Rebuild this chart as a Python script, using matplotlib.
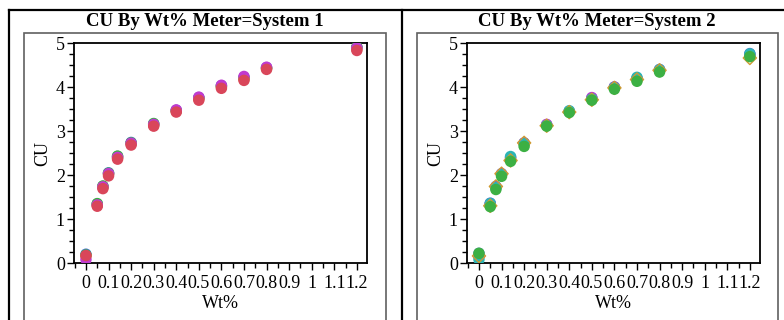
import matplotlib
matplotlib.use("Agg")
import matplotlib.pyplot as plt
from matplotlib.lines import Line2D
from matplotlib.patches import Rectangle
from matplotlib.ticker import MultipleLocator, FixedLocator, FixedFormatter

plt.rcParams["font.family"] = ["Liberation Serif", "DejaVu Serif"]

# x values shared by both meters
wt = [0, 0.05, 0.075, 0.1, 0.14, 0.2, 0.3, 0.4, 0.5, 0.6, 0.7, 0.8, 1.2]

# System 1 (red drawn last, ends up on top)
s1_blue = [0.20, 1.34, 1.74, 2.05, 2.42, 2.74, 3.16, 3.47, 3.76, 4.03, 4.22, 4.44, 4.90]
s1_green = [0.18, 1.35, 1.75, 2.04, 2.43, 2.73, 3.17, 3.46, 3.75, 4.02, 4.20, 4.43, 4.91]
s1_orange = [0.16, 1.31, 1.72, 2.02, 2.39, 2.71, 3.13, 3.45, 3.73, 4.00, 4.18, 4.42, 4.86]
s1_purple = [0.08, 1.32, 1.73, 2.03, 2.40, 2.72, 3.15, 3.48, 3.77, 4.04, 4.24, 4.45, 4.89]
s1_red = [0.17, 1.29, 1.69, 1.98, 2.36, 2.68, 3.11, 3.43, 3.70, 3.97, 4.15, 4.40, 4.83]

# System 2 (green drawn last)
s2_blue = [0.22, 1.36, 1.74, 2.03, 2.40, 2.73, 3.14, 3.45, 3.75, 4.00, 4.20, 4.40, 4.76]
s2_purple = [0.15, 1.34, 1.72, 2.02, 2.38, 2.72, 3.15, 3.44, 3.76, 4.00, 4.18, 4.37, 4.73]
s2_orange = [0.16, 1.30, 1.74, 2.03, 2.33, 2.73, 3.12, 3.43, 3.71, 3.98, 4.17, 4.38, 4.66]
s2_teal = [0.08, 1.35, 1.71, 2.01, 2.42, 2.71, 3.13, 3.46, 3.73, 3.99, 4.22, 4.39, 4.75]
s2_green = [0.22, 1.28, 1.67, 1.97, 2.31, 2.65, 3.11, 3.42, 3.70, 3.95, 4.13, 4.34, 4.69]

x_ticks = [0, 0.1, 0.2, 0.3, 0.4, 0.5, 0.6, 0.7, 0.8, 0.9, 1.0, 1.1, 1.2]
x_ticklabels = ["0", "0.1", "0.2", "0.3", "0.4", "0.5", "0.6", "0.7", "0.8", "0.9", "1", "1.1", "1.2"]

BLUE = "#4a78d0"
GREEN = "#3cb043"
RED = "#d9465a"
PURPLE = "#c03ad0"
ORANGE = "#d09a30"
TEAL = "#2bb5b5"

panels = [
    ("CU By Wt% Meter=System 1",
     [(s1_blue, BLUE, "o"), (s1_green, GREEN, "o"), (s1_orange, ORANGE, "o"),
      (s1_purple, PURPLE, "o"), (s1_red, RED, "o")]),
    ("CU By Wt% Meter=System 2",
     [(s2_blue, BLUE, "o"), (s2_purple, PURPLE, "o"), (s2_teal, TEAL, "o"),
      (s2_orange, ORANGE, "D"), (s2_green, GREEN, "o")]),
]

W, H = 784, 320
fig = plt.figure(figsize=(W / 100, H / 100), dpi=100)
fig.patch.set_facecolor("white")


def fx(px):
    return px / W


def fy(py):
    return 1 - py / H


# black panel frame lines
fig.add_artist(Line2D([fx(8.5), fx(784)], [fy(10), fy(10)], color="black", lw=1.6))
fig.add_artist(Line2D([fx(8.5), fx(8.5)], [fy(10), fy(330)], color="black", lw=1.6))
fig.add_artist(Line2D([fx(401.5), fx(401.5)], [fy(10), fy(330)], color="black", lw=1.6))

box_left = [23.5, 416.5]
box_right = [386, 778]
ax_left = [74, 467]

for i, (title, series) in enumerate(panels):
    bl, br = box_left[i], box_right[i]
    fig.add_artist(Rectangle((fx(bl), fy(340)), fx(br - bl), fy(33) - fy(340),
                             fill=False, edgecolor="#606060", lw=1.2))
    fig.text(fx((bl + br) / 2), fy(21), title, ha="center", va="center",
             fontsize=13.5, fontweight="bold")

    ax = fig.add_axes([fx(ax_left[i]), fy(263), fx(293), fy(43) - fy(263)])
    for ys, col, mk in series:
        if mk == "D":
            ax.scatter(wt, ys, s=45, marker="D", facecolors="none",
                       edgecolors=col, linewidths=1.0, zorder=3)
        else:
            ax.scatter(wt, ys, s=68, marker="o", color=col, edgecolors="none",
                       zorder=3)

    ax.set_xlim(-0.053, 1.245)
    ax.set_ylim(0, 5)
    ax.xaxis.set_major_locator(FixedLocator(x_ticks))
    ax.xaxis.set_major_formatter(FixedFormatter(x_ticklabels))
    ax.xaxis.set_minor_locator(MultipleLocator(0.05))
    ax.yaxis.set_major_locator(MultipleLocator(1))
    ax.yaxis.set_minor_locator(MultipleLocator(0.25))
    ax.tick_params(which="major", length=5, width=1, labelsize=13, direction="out")
    ax.tick_params(which="minor", length=3.5, width=1, direction="out")
    ax.tick_params(axis="x", which="major", pad=4)
    ax.tick_params(axis="y", which="major", pad=1.5)
    for sp in ax.spines.values():
        sp.set_linewidth(1.3)
    ax.set_xlabel("Wt%", fontsize=13, labelpad=2)
    ax.set_ylabel("CU", fontsize=13, labelpad=3)

fig.savefig("out.png", dpi=100, facecolor="white")
